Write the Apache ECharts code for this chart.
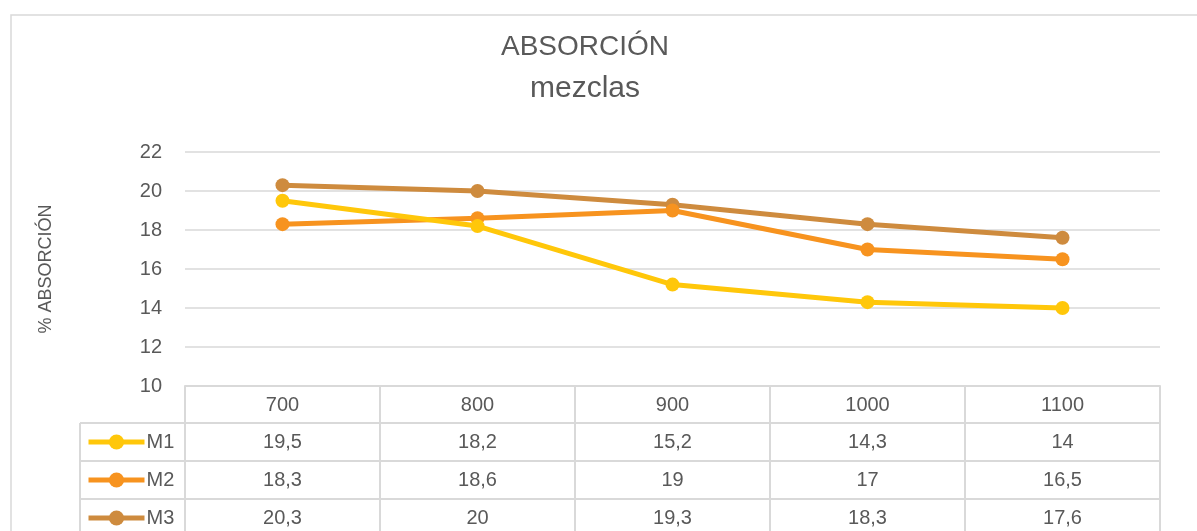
<!DOCTYPE html>
<html><head><meta charset="utf-8">
<script src="https://cdn.jsdelivr.net/npm/echarts@6/dist/echarts.min.js"></script>
<style>html,body{margin:0;padding:0;background:#fff}#c{width:1197px;height:531px}</style>
</head><body><div id="c"></div>
<script>
const categories = ['700', '800', '900', '1000', '1100'];
const seriesNames = ['M1', 'M2', 'M3'];
const m1 = [19.5, 18.2, 15.2, 14.3, 14];
const m2 = [18.3, 18.6, 19, 17, 16.5];
const m3 = [20.3, 20, 19.3, 18.3, 17.6];
const yTicks = [10, 12, 14, 16, 18, 20, 22];
const colors = ['#FFC70A', '#F7931F', '#CE8B3E'];
const seriesData = [m1, m2, m3];

const FONT = 'Liberation Sans';
const TXT = '#595959';
const LINE = '#D9D9D9';
const chart = echarts.init(document.getElementById('c'));

const gridL = 185, gridR = 37, gridT = 152, gridB = 145;
const rowY = [386, 423, 461, 499, 537];

const option = {
  animation: false,
  backgroundColor: '#fff',
  textStyle: { fontFamily: FONT },
  title: [
    { text: 'ABSORCIÓN', left: 580, top: 28, textAlign: 'center',
      textStyle: { fontFamily: FONT, fontSize: 28, fontWeight: 'normal', color: TXT } },
    { text: 'mezclas', left: 580, top: 69, textAlign: 'center',
      textStyle: { fontFamily: FONT, fontSize: 30, fontWeight: 'normal', color: TXT } }
  ],
  legend: seriesNames.map((n, s) => ({
    orient: 'horizontal', left: 86, top: (rowY[s + 1] + rowY[s + 2]) / 2 - 10, padding: 0,
    itemWidth: 56, itemHeight: 19, itemGap: 0,
    lineStyle: { width: 5 },
    textStyle: { fontFamily: FONT, fontSize: 20, color: TXT, padding: [0, 0, 0, -3] },
    data: [n]
  })),
  grid: { left: gridL, right: gridR, top: gridT, bottom: gridB, containLabel: false },
  xAxis: {
    type: 'category', data: categories, boundaryGap: true,
    axisLine: { show: true, lineStyle: { color: LINE, width: 2 } },
    axisTick: { show: false },
    axisLabel: { margin: 9, fontSize: 20, color: TXT, fontFamily: FONT },
    splitLine: { show: false }
  },
  yAxis: {
    type: 'value', min: yTicks[0], max: yTicks[yTicks.length - 1], interval: 2,
    name: '% ABSORCIÓN', nameLocation: 'middle', nameGap: 130, nameRotate: 90,
    nameTextStyle: { fontSize: 18, color: TXT, fontFamily: FONT },
    axisLine: { show: false }, axisTick: { show: false },
    axisLabel: { margin: 23, fontSize: 20, color: TXT, fontFamily: FONT },
    splitLine: { lineStyle: { color: LINE, width: 1.5 } }
  },
  series: seriesNames.map((n, i) => ({
    name: n, type: 'line', data: seriesData[i],
    symbol: 'circle', symbolSize: 14,
    lineStyle: { width: 5, color: colors[i] },
    itemStyle: { color: colors[i] },
    z: 3 - i
  }))
};
chart.setOption(option);

function fmt(v) { return String(v).replace('.', ','); }

const graphics = [];
graphics.push({ type: 'rect', shape: { x: 11, y: 15, width: 1250, height: 600 },
  style: { fill: 'none', stroke: LINE, lineWidth: 1.5 }, silent: true });

const centers = categories.map(c => chart.convertToPixel({ xAxisIndex: 0 }, c));
const band = centers.length > 1 ? centers[1] - centers[0] : 195;
const bounds = [centers[0] - band / 2].concat(centers.map(c => c + band / 2));
const leftX = 80;
const rightX = bounds[bounds.length - 1];

for (let r = 1; r < rowY.length; r++) {
  graphics.push({ type: 'line', shape: { x1: leftX, y1: rowY[r], x2: rightX, y2: rowY[r] },
    style: { stroke: LINE, lineWidth: 2 }, silent: true });
}
bounds.forEach(x => graphics.push({ type: 'line', shape: { x1: x, y1: rowY[0], x2: x, y2: rowY[4] },
  style: { stroke: LINE, lineWidth: 2 }, silent: true }));
graphics.push({ type: 'line', shape: { x1: leftX, y1: rowY[1], x2: leftX, y2: rowY[4] },
  style: { stroke: LINE, lineWidth: 2 }, silent: true });

seriesData.forEach((arr, s) => {
  const cy = (rowY[s + 1] + rowY[s + 2]) / 2;
  arr.forEach((v, i) => {
    graphics.push({ type: 'text', x: centers[i], y: cy, silent: true,
      style: { text: fmt(v), fontFamily: FONT, fontSize: 20, fill: TXT, align: 'center', verticalAlign: 'middle' } });
  });
});

chart.setOption({ graphic: graphics });
</script></body></html>
